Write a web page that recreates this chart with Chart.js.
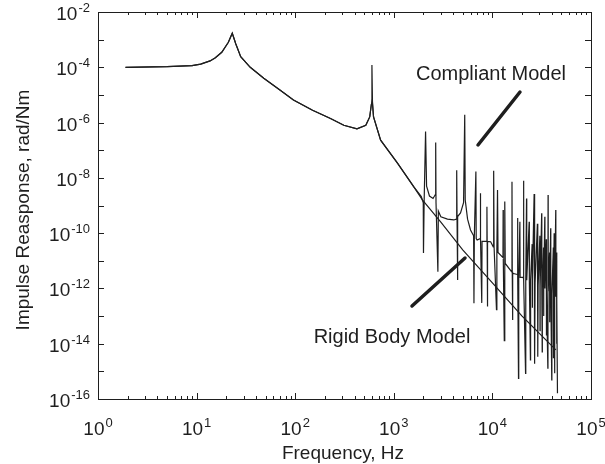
<!DOCTYPE html>
<html>
<head>
<meta charset="utf-8">
<script src="https://cdn.jsdelivr.net/npm/chart.js@4"></script>
<style>
  html, body { margin: 0; padding: 0; background: #fff; }
</style>
</head>
<body>
<canvas id="impulseChart" width="605" height="464"></canvas>
<script>
// values (Hz, rad/Nm)
const rigidFreq = [1.9, 5, 9, 11, 13.7, 15.5, 18, 21, 23, 25, 28, 35, 48, 70, 96, 150, 228, 311, 423, 520, 570, 592, 605, 623, 735, 1090, 1590, 1950, 3000, 5000, 10000, 20000, 44000];
const rigidResp = [1.0e-4, 1.05e-4, 1.15e-4, 1.3e-4, 1.7e-4, 2.2e-4, 3.5e-4, 8e-4, 1.7e-3, 7e-4, 2.4e-4, 1.0e-4, 4e-5, 1.5e-5, 6.6e-6, 2.8e-6, 1.4e-6, 8e-7, 5.9e-7, 8e-7, 1.6e-6, 4.5e-6, 6.5e-6, 1.6e-6, 2.3e-7, 3.4e-8, 4.8e-9, 1.6e-9, 2.5e-10, 2.5e-11, 1.6e-12, 1e-13, 6e-15];

const compliantFreq = [
  1.9, 5, 9, 11, 13.7, 15.5, 18, 21, 23, 25, 28, 35, 48, 70, 96, 150, 228, 311, 423, 520, 570, 592, 600, 608, 623, 735, 1090, 1590, 1900,
  1990, 2000, 2030, 2100, 2150, 2300, 2500, 2640, 2660, 2680, 2800, 2830, 3000, 3500, 4060, 4300, 4345, 4380, 4420, 4460, 4750, 5100, 5240, 5300, 5600, 6000,
  6450, 6500, 6560, 6800, 6850, 7000, 7500, 7550, 7600, 7800, 7850, 8700, 8800, 8850, 8900, 8950, 9600, 10200, 10300, 10400, 11000, 11100, 11270, 11400,
  12800, 12850, 12900, 13200, 13300, 13400, 13500, 15700, 15800, 15900, 16000, 16100, 17900, 18000, 18100, 18400, 18500, 19000, 19100, 20600, 20700, 20800,
  21700, 21800, 22200, 22300, 23600, 23700, 24300, 24400, 25300, 25400, 25500, 26500, 26600, 27000, 27100, 28600, 28700, 29000, 29100,
  30300, 30400, 30500, 31600, 31700, 32000, 32100, 33000, 33100, 33200, 34000, 34100, 35200, 35300, 35400, 36500, 36600, 36700, 36800,
  38000, 38100, 38200, 39000, 39100, 40000, 40100, 41500, 41600, 41700, 42300, 42400, 43000, 43100, 43900, 44000, 44800, 44900, 45000, 45700
];
const compliantResp = [
  1.0e-4, 1.05e-4, 1.15e-4, 1.3e-4, 1.7e-4, 2.2e-4, 3.5e-4, 8e-4, 1.7e-3, 7e-4, 2.4e-4, 1.0e-4, 4e-5, 1.5e-5, 6.6e-6, 2.8e-6, 1.4e-6, 8e-7, 5.9e-7, 8e-7, 1.6e-6, 4.5e-6, 1.2e-4, 5e-6, 1.6e-6, 2.3e-7, 3.4e-8, 4.8e-9, 2.1e-9,
  1.26e-9, 1.9e-11, 1.26e-9, 4.7e-7, 5e-9, 2.2e-9, 1.8e-9, 2.5e-9, 1.9e-7, 1.26e-9, 4e-12, 6.3e-10, 3.9e-10, 3.2e-10, 3e-10, 3.2e-10, 1.9e-8, 3.2e-10, 2e-12, 4e-10, 5.4e-10, 1.26e-9, 1.9e-6, 1.6e-9, 3.2e-10, 1.3e-10,
  8e-11, 2.9e-13, 8e-11, 1.7e-8, 6.3e-11, 5.6e-11, 6.3e-11, 2.8e-9, 6.3e-11, 3e-13, 5e-11, 5e-11, 9e-10, 5e-11, 2.2e-13, 5e-11, 4.9e-11, 3.2e-11, 1.8e-8, 3.2e-11, 1.7e-13, 2.5e-11, 3.6e-9, 2e-11,
  1.3e-11, 6.9e-10, 1e-11, 1.3e-14, 8e-12, 1.4e-9, 8e-12, 4e-12, 7.2e-9, 4e-12, 7.2e-14, 3.5e-12, 3.2e-12, 3.5e-10, 3.2e-12, 5.6e-16, 2.5e-12, 2.6e-10, 2.5e-12, 2.5e-12, 7.8e-9, 2e-12,
  8.5e-16, 2e-12, 1.8e-9, 2e-12, 2.6e-10, 2e-12, 2.6e-15, 2e-12, 4e-11, 2e-13, 2e-12, 2.6e-9, 1.6e-12, 1.9e-15, 1.6e-12, 2.2e-10, 1.26e-12, 3.4e-15, 1.26e-12,
  8e-11, 3e-14, 1.2e-12, 5.2e-10, 1e-12, 5.1e-15, 1e-12, 3e-11, 1e-13, 1e-12, 3.9e-10, 1e-12, 6e-11, 2e-14, 9e-13, 1.3e-15, 8e-13, 2.4e-9, 8e-13,
  2e-11, 6e-14, 7e-13, 1.5e-10, 7e-13, 4.9e-16, 6.3e-13, 3e-11, 3e-15, 6e-13, 1e-10, 6e-13, 8.5e-16, 6.3e-13, 6.9e-10, 5e-13, 2e-11, 1e-14, 4e-13, 1.6e-16
];

const xTickExps = [0, 1, 2, 3, 4, 5];
const yTickExps = [-2, -4, -6, -8, -10, -12, -14, -16];
const xTitle = "Frequency, Hz";
const yTitle = "Impulse Reasponse, rad/Nm";

const ink = "#1e1e1e";
const font = "'Liberation Sans', Arial, sans-serif";

function toPoints(fs, vs) {
  return fs.map((f, i) => ({ x: f, y: vs[i] }));
}

// "10" with a raised exponent
function drawPower(ctx, exp, x, baseY, align) {
  ctx.font = "19px " + font;
  const wb = ctx.measureText("10").width;
  ctx.font = "13px " + font;
  const ws = ctx.measureText(String(exp)).width;
  const total = wb + 1 + ws;
  const start = align === "center" ? x - total / 2 : x - total;
  ctx.textAlign = "left";
  ctx.textBaseline = "alphabetic";
  ctx.font = "19px " + font;
  ctx.fillText("10", start, baseY);
  ctx.font = "13px " + font;
  ctx.fillText(String(exp), start + wb + 1, baseY - 8);
}

const frame = {
  id: "frame",
  afterDraw(chart) {
    const { ctx, chartArea: a, scales } = chart;
    const x = scales.x, y = scales.y;
    ctx.save();
    ctx.strokeStyle = ink;
    ctx.fillStyle = ink;
    ctx.lineWidth = 1;
    ctx.strokeRect(Math.round(a.left) + 0.5, Math.round(a.top) + 0.5, Math.round(a.right - a.left), Math.round(a.bottom - a.top));

    // x ticks (major + minor), pointing inward on bottom and top
    ctx.beginPath();
    for (let e = xTickExps[0]; e < xTickExps[xTickExps.length - 1]; e++) {
      for (let m = 1; m <= 9; m++) {
        const px = Math.round(x.getPixelForValue(m * Math.pow(10, e))) + 0.5;
        const len = m === 1 ? 6 : 3;
        ctx.moveTo(px, a.bottom); ctx.lineTo(px, a.bottom - len);
        ctx.moveTo(px, a.top); ctx.lineTo(px, a.top + len);
      }
    }
    // y ticks at each decade, left and right
    for (let e = -16; e <= -2; e++) {
      const py = Math.round(y.getPixelForValue(Math.pow(10, e))) + 0.5;
      ctx.moveTo(a.left, py); ctx.lineTo(a.left + 6, py);
      ctx.moveTo(a.right, py); ctx.lineTo(a.right - 6, py);
    }
    ctx.stroke();

    // tick labels
    xTickExps.forEach(e => {
      drawPower(ctx, e, x.getPixelForValue(Math.pow(10, e)), 435, "center");
    });
    yTickExps.forEach(e => {
      const py = y.getPixelForValue(Math.pow(10, e));
      drawPower(ctx, e, 90, py + 8, "right");
    });

    // axis titles
    ctx.font = "19px " + font;
    ctx.textAlign = "center";
    ctx.textBaseline = "alphabetic";
    ctx.fillText(xTitle, 343, 459);
    ctx.save();
    ctx.translate(29, 210);
    ctx.rotate(-Math.PI / 2);
    ctx.fillText(yTitle, 0, 0);
    ctx.restore();

    // annotations
    ctx.font = "20px " + font;
    ctx.textBaseline = "middle";
    ctx.fillText("Compliant Model", 491, 74);
    ctx.fillText("Rigid Body Model", 392, 337);
    ctx.lineWidth = 3.5;
    ctx.lineCap = "round";
    ctx.beginPath();
    ctx.moveTo(520, 92); ctx.lineTo(478, 145);
    ctx.moveTo(465, 258); ctx.lineTo(412, 306);
    ctx.stroke();
    ctx.restore();
  }
};

const ctx = document.getElementById("impulseChart").getContext("2d");
new Chart(ctx, {
  type: "line",
  data: {
    datasets: [
      {
        label: "Compliant Model",
        data: toPoints(compliantFreq, compliantResp),
        borderColor: ink,
        borderWidth: 1.2,
        pointRadius: 0,
        tension: 0,
      },
      {
        label: "Rigid Body Model",
        data: toPoints(rigidFreq, rigidResp),
        borderColor: ink,
        borderWidth: 1.2,
        pointRadius: 0,
        tension: 0,
      },
    ],
  },
  options: {
    responsive: false,
    animation: false,
    layout: { padding: { left: 90, right: 14, top: 12, bottom: 57 } },
    plugins: { legend: { display: false }, tooltip: { enabled: false } },
    scales: {
      x: {
        type: "logarithmic",
        min: 1,
        max: 1e5,
        ticks: { display: false },
        grid: { display: false },
        border: { display: false },
      },
      y: {
        type: "logarithmic",
        min: 1e-16,
        max: 1e-2,
        ticks: { display: false },
        grid: { display: false },
        border: { display: false },
      },
    },
  },
  plugins: [frame],
});
</script>
</body>
</html>
